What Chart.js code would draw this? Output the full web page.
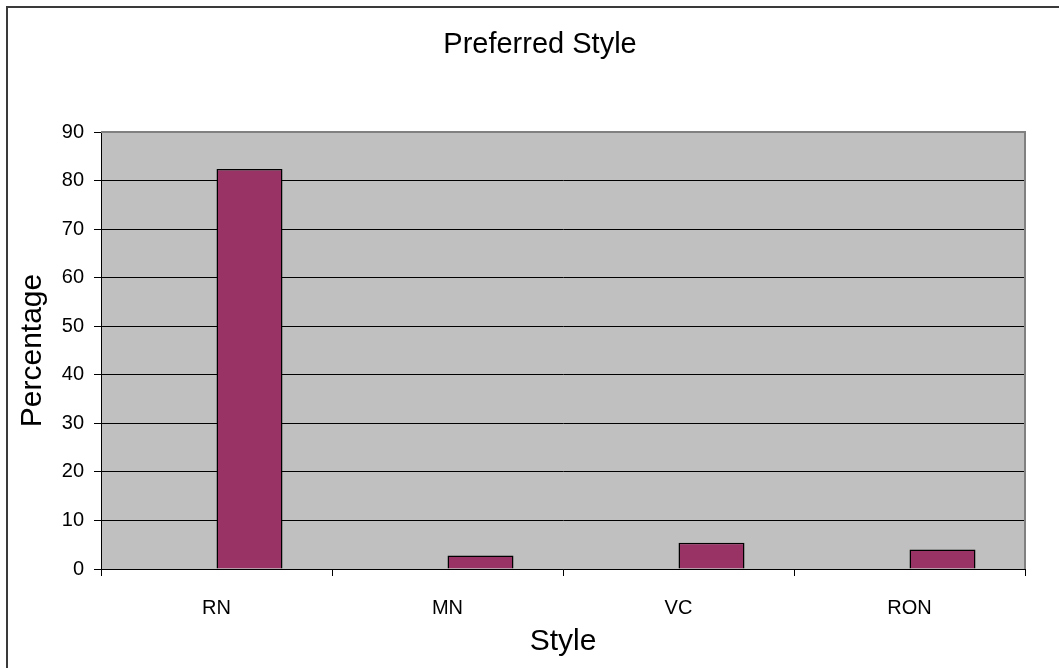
<!DOCTYPE html>
<html>
<head>
<meta charset="utf-8">
<title>Preferred Style</title>
<script src="https://cdn.jsdelivr.net/npm/chart.js@4/dist/chart.umd.min.js"></script>
<style>
  html, body { margin: 0; padding: 0; background: #ffffff; }
  #wrap { position: relative; width: 1059px; height: 668px; }
</style>
</head>
<body>
<div id="wrap"><canvas id="chart" width="1059" height="668"></canvas></div>
<script>
// Categories and values
const categories = ['RN', 'MN', 'VC', 'RON'];
const emptySeries = [null, null, null, null];
const percentValues = [82.4, 2.8, 5.4, 4.0];
const yMin = 0;
const yMax = 90;
const yStep = 10;
const chartTitle = 'Preferred Style';

const FONT = '"Liberation Sans", Arial, sans-serif';

// Grey plot background, plot frame, outer chart frame and the centred title
const framePlugin = {
  id: 'frame',
  beforeDraw(chart) {
    const { ctx, chartArea: a } = chart;
    ctx.save();
    ctx.fillStyle = '#c0c0c0';
    ctx.fillRect(a.left, a.top, a.right - a.left, a.bottom - a.top);
    ctx.restore();
  },
  afterDraw(chart) {
    const { ctx, chartArea: a } = chart;
    ctx.save();
    ctx.strokeStyle = '#808080';
    ctx.lineWidth = 2;
    ctx.beginPath();
    ctx.moveTo(a.left, a.top);
    ctx.lineTo(a.right, a.top);
    ctx.lineTo(a.right, a.bottom);
    ctx.stroke();
    ctx.strokeStyle = '#3a3a3a';
    ctx.beginPath();
    ctx.moveTo(7, chart.height);
    ctx.lineTo(7, 7);
    ctx.lineTo(chart.width, 7);
    ctx.stroke();

    ctx.fillStyle = '#000000';
    ctx.font = '29px ' + FONT;
    ctx.textAlign = 'center';
    ctx.textBaseline = 'middle';
    ctx.fillText(chartTitle, 540, 45);
    ctx.restore();
  }
};

new Chart(document.getElementById('chart'), {
  type: 'bar',
  data: {
    labels: categories,
    datasets: [
      {
        label: '',
        data: emptySeries,
        backgroundColor: '#993366',
        borderColor: '#000000',
        borderWidth: 1.5
      },
      {
        label: 'Percentage',
        data: percentValues,
        backgroundColor: '#993366',
        borderColor: '#000000',
        borderWidth: 1.5
      }
    ]
  },
  options: {
    responsive: false,
    animation: false,
    layout: { padding: { left: 0, right: 34, top: 132, bottom: 0 } },
    datasets: {
      bar: { categoryPercentage: 132 / 231, barPercentage: 1 }
    },
    plugins: {
      legend: { display: false },
      tooltip: { enabled: false },
      title: { display: false }
    },
    scales: {
      x: {
        afterFit(scale) { scale.height = 99; },
        border: { color: '#000000', width: 1 },
        grid: {
          offset: true,
          drawOnChartArea: false,
          drawTicks: true,
          tickLength: 7,
          color: '#000000'
        },
        ticks: {
          color: '#000000',
          padding: 20,
          maxRotation: 0,
          font: { family: FONT, size: 20 }
        },
        title: {
          display: true,
          text: 'Style',
          color: '#000000',
          font: { family: FONT, size: 30, lineHeight: 1.2 },
          padding: { top: 0, bottom: 8 }
        }
      },
      y: {
        min: yMin,
        max: yMax,
        afterFit(scale) { scale.width = 101; },
        border: { color: '#000000', width: 1 },
        grid: {
          drawTicks: true,
          tickLength: 7,
          color: '#000000'
        },
        ticks: {
          stepSize: yStep,
          color: '#000000',
          padding: 10,
          font: { family: FONT, size: 20 }
        },
        title: {
          display: true,
          text: 'Percentage',
          color: '#000000',
          font: { family: FONT, size: 30, lineHeight: 1.2 },
          padding: { top: 15, bottom: 0 }
        }
      }
    }
  },
  plugins: [framePlugin]
});
</script>
</body>
</html>
